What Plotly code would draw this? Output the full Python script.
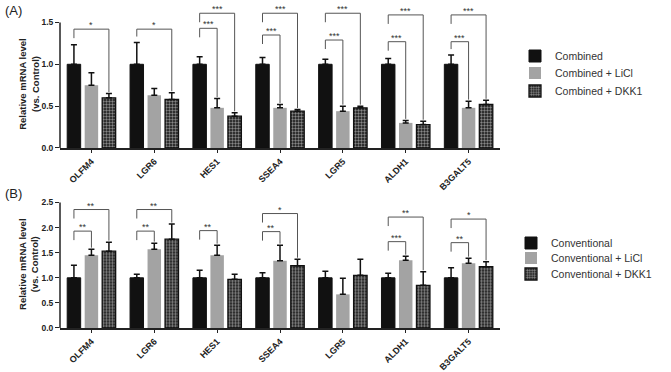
import plotly.graph_objects as go
from plotly.subplots import make_subplots

categories = ["OLFM4", "LGR6", "HES1", "SSEA4", "LGR5", "ALDH1", "B3GALT5"]

# Panel A (Combined)
a_names = ["Combined", "Combined + LiCl", "Combined + DKK1"]
a_ctrl = [1.0, 1.0, 1.0, 1.0, 1.0, 1.0, 1.0]
a_ctrl_err = [0.235, 0.26, 0.09, 0.08, 0.06, 0.07, 0.11]
a_licl = [0.75, 0.63, 0.48, 0.48, 0.44, 0.30, 0.48]
a_licl_err = [0.15, 0.08, 0.11, 0.04, 0.06, 0.03, 0.08]
a_dkk1 = [0.60, 0.58, 0.38, 0.44, 0.48, 0.28, 0.52]
a_dkk1_err = [0.05, 0.08, 0.04, 0.02, 0.02, 0.04, 0.05]

# Panel B (Conventional)
b_names = ["Conventional", "Conventional + LiCl", "Conventional + DKK1"]
b_ctrl = [1.0, 1.0, 1.0, 1.0, 1.0, 1.0, 1.0]
b_ctrl_err = [0.25, 0.07, 0.15, 0.10, 0.13, 0.09, 0.20]
b_licl = [1.45, 1.57, 1.45, 1.34, 0.67, 1.35, 1.29]
b_licl_err = [0.12, 0.12, 0.20, 0.31, 0.32, 0.08, 0.10]
b_dkk1 = [1.53, 1.77, 0.97, 1.24, 1.05, 0.85, 1.22]
b_dkk1_err = [0.18, 0.30, 0.10, 0.13, 0.32, 0.27, 0.10]

# significance brackets: (category index, from bar, to bar, level, label)
a_brackets = [(0, 0, 2, 1.42, "*"), (1, 0, 2, 1.42, "*"),
              (2, 0, 1, 1.43, "***"), (2, 0, 2, 1.61, "***"),
              (3, 0, 1, 1.35, "***"), (3, 0, 2, 1.61, "***"),
              (4, 0, 1, 1.29, "***"), (4, 0, 2, 1.61, "***"),
              (5, 0, 1, 1.27, "***"), (5, 0, 2, 1.59, "***"),
              (6, 0, 1, 1.27, "***"), (6, 0, 2, 1.59, "***")]
b_brackets = [(0, 0, 1, 1.93, "**"), (0, 0, 2, 2.36, "**"),
              (1, 0, 1, 1.93, "**"), (1, 0, 2, 2.36, "**"),
              (2, 0, 1, 1.94, "**"),
              (3, 0, 1, 1.92, "**"), (3, 0, 2, 2.28, "*"),
              (5, 0, 1, 1.72, "***"), (5, 0, 2, 2.21, "**"),
              (6, 0, 1, 1.70, "**"), (6, 0, 2, 2.17, "*")]

a_ticks = [0.0, 0.5, 1.0, 1.5]
b_ticks = [0.0, 0.5, 1.0, 1.5, 2.0, 2.5]
y_title = "<b>Relative mRNA level<br>(vs. Control)</b>"

FONT = "Arial, Liberation Sans, sans-serif"
BLACK = "#111111"
GRAY = "#a3a3a3"
BARGAP = 0.165
W, H = 671, 372

fig = make_subplots(rows=2, cols=1, vertical_spacing=0.1)

def add_panel(row, names, vals, errs, legends):
    styles = [
        dict(color=BLACK, line=dict(color=BLACK, width=1)),
        dict(color=GRAY, line=dict(color=GRAY, width=0)),
        dict(color=BLACK, line=dict(color=BLACK, width=1.3),
             pattern=dict(shape=".", fgcolor="white", bgcolor=BLACK, size=3, solidity=0.5)),
    ]
    for k in range(3):
        fig.add_trace(go.Bar(
            x=categories, y=vals[k], name=names[k], marker=styles[k],
            error_y=dict(type="data", array=errs[k], arrayminus=[0] * len(errs[k]),
                         symmetric=False, color=BLACK, thickness=1.5, width=3),
            legend=legends[k],
        ), row=row, col=1)

add_panel(1, a_names, [a_ctrl, a_licl, a_dkk1], [a_ctrl_err, a_licl_err, a_dkk1_err],
          ["legend", "legend2", "legend3"])
add_panel(2, b_names, [b_ctrl, b_licl, b_dkk1], [b_ctrl_err, b_licl_err, b_dkk1_err],
          ["legend4", "legend5", "legend6"])

slot = (1 - BARGAP) / 3

def add_brackets(brackets, tops, px_per_unit, xref, yref):
    leg_len = 9.0 / px_per_unit
    gap = 1.5 / px_per_unit
    for (i, a, b, level, label) in brackets:
        xa = i + (a - 1) * slot
        xb = i + (b - 1) * slot
        ya = max(tops[a][i] + 6 / px_per_unit, level - leg_len)
        yb = tops[b][i] + gap
        fig.add_shape(type="path",
                      path=f"M {xa},{ya} L {xa},{level} L {xb},{level} L {xb},{yb}",
                      xref=xref, yref=yref, line=dict(color="#555555", width=1))
        fig.add_annotation(x=(xa + xb) / 2, y=level, xref=xref, yref=yref, text=label,
                           showarrow=False, yanchor="bottom", yshift=-3,
                           font=dict(family=FONT, size=9, color="#333333"))

a_tops = [[v + e for v, e in zip(vs, es)] for vs, es in
          [(a_ctrl, a_ctrl_err), (a_licl, a_licl_err), (a_dkk1, a_dkk1_err)]]
b_tops = [[v + e for v, e in zip(vs, es)] for vs, es in
          [(b_ctrl, b_ctrl_err), (b_licl, b_licl_err), (b_dkk1, b_dkk1_err)]]

# pixel geometry
x0_px, x1_px = 60, 500
a_zero, a_unit = 148, 83.7
a_max = 1.72
b_zero, b_unit = 328, 50.2
b_max = 2.52

add_brackets(a_brackets, a_tops, a_unit, "x", "y")
add_brackets(b_brackets, b_tops, b_unit, "x2", "y2")

xdom = [x0_px / W, x1_px / W]
a_dom = [(H - a_zero) / H, (H - (a_zero - a_max * a_unit)) / H]
b_dom = [(H - b_zero) / H, (H - (b_zero - b_max * b_unit)) / H]

axis_x = dict(showline=True, linecolor="#222222", linewidth=1.5, ticks="outside",
              ticklen=3, tickcolor="#222222", tickangle=-45, automargin=False,
              tickfont=dict(family=FONT, size=9, color="#222222"),
              range=[-0.5, 6.5], domain=xdom, showgrid=False, zeroline=False)

def axis_y(ticks, rng, dom):
    return dict(showline=False, ticks="outside", ticklen=4, tickcolor="#222222", tickwidth=1.2,
                tickvals=ticks, ticktext=[f"<b>{t:.1f}</b>" for t in ticks], automargin=False,
                tickfont=dict(family=FONT, size=8.5, color="#222222"),
                range=rng, domain=dom, showgrid=False, zeroline=False)

fig.update_layout(
    xaxis=dict(axis_x, tickvals=list(range(7)), ticktext=[f"<b>{c}</b>" for c in categories]),
    xaxis2=dict(axis_x, tickvals=list(range(7)), ticktext=[f"<b>{c}</b>" for c in categories]),
    yaxis=axis_y(a_ticks, [0, a_max], a_dom),
    yaxis2=axis_y(b_ticks, [0, b_max], b_dom),
)

# y axis lines (only up to the top tick)
fig.add_shape(type="line", xref="x domain", yref="y domain", x0=0, x1=0, y0=0,
              y1=a_ticks[-1] / a_max, line=dict(color="#222222", width=1.5))
fig.add_shape(type="line", xref="x2 domain", yref="y2 domain", x0=0, x1=0, y0=0,
              y1=b_ticks[-1] / b_max, line=dict(color="#222222", width=1.5))

# y axis titles
for yref, top_tick, ymax in [("y domain", a_ticks[-1], a_max), ("y2 domain", b_ticks[-1], b_max)]:
    fig.add_annotation(text=y_title, textangle=-90, x=29 / W, xref="paper",
                       y=top_tick / ymax / 2 + 0.01, yref=yref, xanchor="center", yanchor="middle",
                       showarrow=False, font=dict(family=FONT, size=9.5, color="#222222"))

fig.add_annotation(text="(A)", x=3 / W, y=1 - 1 / H, xref="paper", yref="paper",
                   xanchor="left", yanchor="top", showarrow=False,
                   font=dict(family=FONT, size=13, color="#222222"))
fig.add_annotation(text="(B)", x=3 / W, y=1 - 184 / H, xref="paper", yref="paper",
                   xanchor="left", yanchor="top", showarrow=False,
                   font=dict(family=FONT, size=13, color="#222222"))

def leg(x_px, y_px):
    return dict(x=x_px / W, y=1 - y_px / H, xanchor="left", yanchor="middle",
                font=dict(family=FONT, size=10.5, color="#333333"),
                itemwidth=30, bgcolor="rgba(0,0,0,0)")

fig.update_layout(
    width=W, height=H, margin=dict(l=0, r=0, t=0, b=0, autoexpand=False),
    paper_bgcolor="white", plot_bgcolor="white",
    barmode="group", bargap=BARGAP, bargroupgap=0.23,
    font=dict(family=FONT, color="#222222"),
    legend=leg(515, 56), legend2=leg(515, 73), legend3=leg(515, 91),
    legend4=leg(511, 243), legend5=leg(511, 258), legend6=leg(511, 274),
    showlegend=True,
)

fig.write_html("out.html", config={"displayModeBar": False},
               post_script="document.body.style.margin='0';")
